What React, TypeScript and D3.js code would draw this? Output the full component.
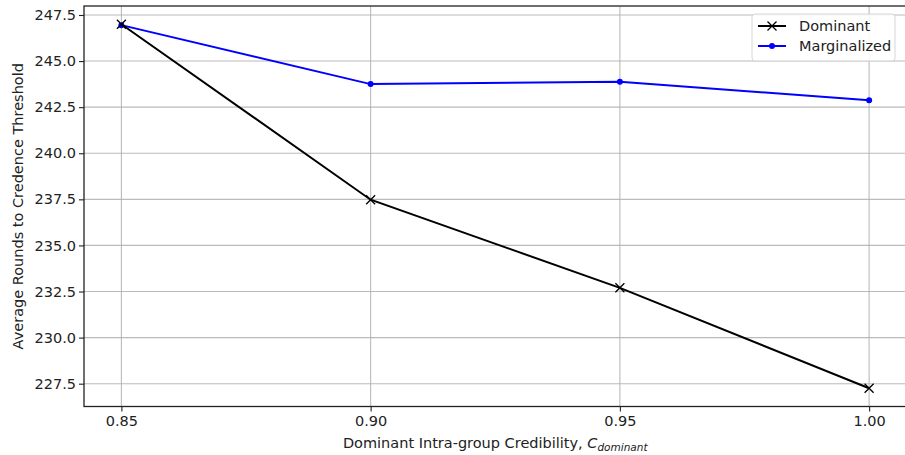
import React, { useEffect, useRef } from "react";
import * as d3 from "d3";

const credibility = [0.85, 0.9, 0.95, 1.0];
const dominant = [247.0, 237.48, 232.7, 227.25];
const marginalized = [246.95, 243.75, 243.88, 242.88];
const xTicks = [0.85, 0.9, 0.95, 1.0];
const yTicks = [227.5, 230.0, 232.5, 235.0, 237.5, 240.0, 242.5, 245.0, 247.5];

const W = 905;
const H = 455;
const FONT = "DejaVu Sans, sans-serif";
const FS = 14.5;

function App() {
  const ref = useRef<SVGSVGElement>(null);

  useEffect(() => {
    const svg = d3.select(ref.current);
    svg.selectAll("*").remove();

    const left = 84;
    const right = 906.5;
    const top = 6;
    const bottom = 406.5;

    // matplotlib-style 5% margins
    const xMin = d3.min(credibility)!;
    const xMax = d3.max(credibility)!;
    const xPad = (xMax - xMin) * 0.05;
    const all = dominant.concat(marginalized);
    const yMin = d3.min(all)!;
    const yMax = d3.max(all)!;
    const yPad = (yMax - yMin) * 0.05;

    const x = d3.scaleLinear().domain([xMin - xPad, xMax + xPad]).range([left, right]);
    const y = d3.scaleLinear().domain([yMin - yPad, yMax + yPad]).range([bottom, top]);

    // grid
    const grid = svg.append("g");
    xTicks.forEach((t) => {
      grid.append("line")
        .attr("x1", x(t)).attr("x2", x(t))
        .attr("y1", top).attr("y2", bottom)
        .attr("stroke", "#b0b0b0").attr("stroke-width", 1.1).attr("opacity", 0.85);
    });
    yTicks.forEach((t) => {
      grid.append("line")
        .attr("x1", left).attr("x2", right)
        .attr("y1", y(t)).attr("y2", y(t))
        .attr("stroke", "#b0b0b0").attr("stroke-width", 1.1).attr("opacity", 0.85);
    });

    // axes
    const xAxis = svg.append("g")
      .attr("transform", `translate(0,${bottom})`)
      .call(d3.axisBottom(x).tickValues(xTicks).tickFormat(d3.format(".2f")).tickSize(5).tickSizeOuter(0));
    const yAxis = svg.append("g")
      .attr("transform", `translate(${left},0)`)
      .call(d3.axisLeft(y).tickValues(yTicks).tickFormat(d3.format(".1f")).tickSize(5).tickSizeOuter(0));
    [xAxis, yAxis].forEach((a) => {
      a.select(".domain").remove();
      a.selectAll("line").attr("stroke", "#222").attr("stroke-width", 1.1);
      a.selectAll("text")
        .attr("font-family", FONT).attr("font-size", FS).attr("fill", "#222");
    });
    xAxis.selectAll("text").attr("dy", "0.71em").attr("y", 9);
    yAxis.selectAll("text").attr("x", -8);

    // spines
    svg.append("rect")
      .attr("x", left).attr("y", top)
      .attr("width", right - left).attr("height", bottom - top)
      .attr("fill", "none").attr("stroke", "#222").attr("stroke-width", 1.3);

    const line = d3.line<number>().x((_, i) => x(credibility[i])).y((d) => y(d));

    // Marginalized
    svg.append("path").datum(marginalized)
      .attr("d", line).attr("fill", "none").attr("stroke", "#0000ff").attr("stroke-width", 2);
    svg.append("g").selectAll("circle").data(marginalized).enter().append("circle")
      .attr("cx", (_, i) => x(credibility[i])).attr("cy", (d) => y(d))
      .attr("r", 3).attr("fill", "#0000ff");

    // Dominant
    svg.append("path").datum(dominant)
      .attr("d", line).attr("fill", "none").attr("stroke", "#000").attr("stroke-width", 2);
    const s = 4.5;
    svg.append("g").selectAll("path").data(dominant).enter().append("path")
      .attr("d", (d, i) => {
        const cx = x(credibility[i]);
        const cy = y(d);
        return `M${cx - s},${cy - s}L${cx + s},${cy + s}M${cx - s},${cy + s}L${cx + s},${cy - s}`;
      })
      .attr("stroke", "#000").attr("stroke-width", 1.3).attr("fill", "none");

    // labels
    svg.append("text")
      .attr("x", (left + right) / 2).attr("y", 448)
      .attr("text-anchor", "middle")
      .attr("font-family", FONT).attr("font-size", FS).attr("fill", "#222")
      .call((t) => {
        t.append("tspan").text("Dominant Intra-group Credibility, ");
        t.append("tspan").attr("font-style", "italic").text("C");
        t.append("tspan").attr("font-style", "italic").attr("font-size", 10.5).attr("dy", 3).text("dominant");
      });
    svg.append("text")
      .attr("transform", `translate(23,${(top + bottom) / 2}) rotate(-90)`)
      .attr("text-anchor", "middle")
      .attr("font-family", FONT).attr("font-size", FS).attr("fill", "#222")
      .text("Average Rounds to Credence Threshold");

    // legend
    const lg = svg.append("g").attr("transform", "translate(752,14)");
    lg.append("rect")
      .attr("width", 143).attr("height", 47).attr("rx", 3)
      .attr("fill", "#fff").attr("fill-opacity", 0.85)
      .attr("stroke", "#d5d5d5").attr("stroke-width", 1);
    const items = [
      { name: "Dominant", color: "#000", marker: "x" },
      { name: "Marginalized", color: "#0000ff", marker: "o" },
    ];
    items.forEach((it, i) => {
      const cy = 12 + i * 20;
      lg.append("line").attr("x1", 6).attr("x2", 34).attr("y1", cy).attr("y2", cy)
        .attr("stroke", it.color).attr("stroke-width", 2);
      if (it.marker === "x") {
        lg.append("path")
          .attr("d", `M${20 - s},${cy - s}L${20 + s},${cy + s}M${20 - s},${cy + s}L${20 + s},${cy - s}`)
          .attr("stroke", it.color).attr("stroke-width", 1.3);
      } else {
        lg.append("circle").attr("cx", 20).attr("cy", cy).attr("r", 3).attr("fill", it.color);
      }
      lg.append("text").attr("x", 47).attr("y", cy).attr("dy", "0.35em")
        .attr("font-family", FONT).attr("font-size", FS).attr("fill", "#222")
        .text(it.name);
    });
  }, []);

  return <svg ref={ref} width={W} height={H} style={{ position: "absolute", left: 0, top: 0 }} />;
}

export default App;
